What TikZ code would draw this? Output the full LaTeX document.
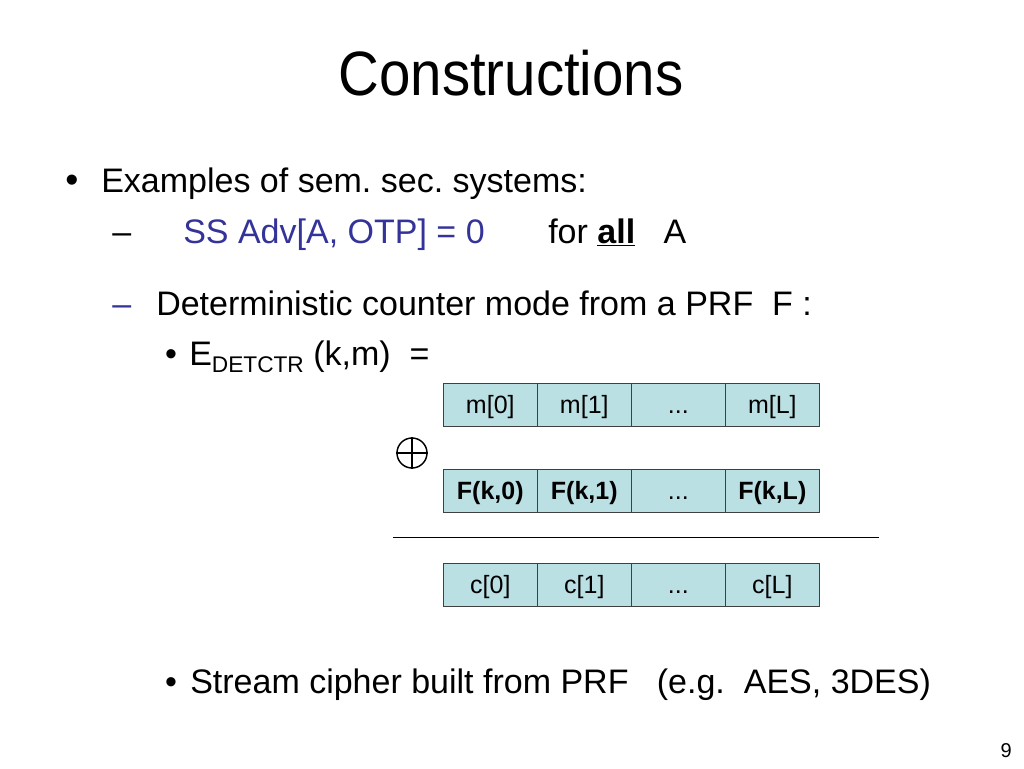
\documentclass[tikz,border=0pt]{standalone}
\usepackage{fontspec}
\setmainfont{Liberation Sans}
\usepackage{tikz}
\usetikzlibrary{positioning}
\definecolor{cellfill}{RGB}{187,224,227}
\definecolor{ssblue}{RGB}{51,51,153}
\tikzstyle{textline} = [anchor=base west, inner sep=0pt, font=\fontsize{25.5}{30}\selectfont]
\tikzstyle{dot} = [anchor=base, inner sep=0pt, font=\fontsize{25.5}{30}\selectfont]
\tikzstyle{cell} = [rectangle, draw=black!75, line width=0.9pt, fill=cellfill, minimum width=70.5pt, minimum height=32.25pt, inner sep=0pt, outer sep=0pt, text height=13pt, text depth=0pt, font=\fontsize{18.75}{22}\selectfont]
\tikzstyle{rule} = [line width=0.6pt]

\begin{document}
\frenchspacing
\begin{tikzpicture}[x=0.75pt, y=-0.75pt]
\useasboundingbox (0,0) rectangle (1024,768);

\node (title) [anchor=base, inner sep=0pt, font=\fontsize{47}{56}\selectfont] at (511,95) {\scalebox{0.9}[1]{Constructions}};

% bullet text
\node (b1) [dot, font=\fontsize{28}{32}\selectfont] at (72,192) {•};
\node (examples) [textline] at (101,192) {Examples of sem. sec. systems:};
\node (d1) [textline] at (112,243) {–};
\node (ssadv) [textline, text=ssblue] at (183,243) {SS Adv[A, OTP] = 0};
\node (forall) [textline] at (548,243) {for \underline{\textbf{all}}~~~A};
\node (d2) [textline, text=ssblue] at (112,315) {–};
\node (detctr) [textline] at (156,315) {Deterministic counter mode from a PRF~~F :};
\node (b2) [dot] at (171,365) {•};
\node (enc) [textline] at (189,365) {E\raisebox{-0.22em}{\fontsize{17}{20}\selectfont DETCTR} (k,m)~~=};
\node (b3) [dot] at (171,693) {•};
\node (stream) [textline] at (190,693) {Stream cipher built from PRF~~~(e.g.~~AES, 3DES)};

% cells
\node (m0) [cell] at (490.3,404.8) {m[0]};
\node (m1) [cell, right=0pt of m0] {m[1]};
\node (m2) [cell, right=0pt of m1] {...};
\node (mL) [cell, right=0pt of m2] {m[L]};

\node (f0) [cell, below=32.25pt of m0] {\textbf{F(k,0)}};
\node (f1) [cell, right=0pt of f0] {\textbf{F(k,1)}};
\node (f2) [cell, right=0pt of f1] {...};
\node (fL) [cell, right=0pt of f2] {\textbf{F(k,L)}};

\node (c0) [cell, below=38.25pt of f0] {c[0]};
\node (c1) [cell, right=0pt of c0] {c[1]};
\node (c2) [cell, right=0pt of c1] {...};
\node (cL) [cell, right=0pt of c2] {c[L]};

% xor sign
\node (xor) [circle, draw, line width=1.1pt, minimum size=22.5pt, inner sep=0pt] at (412,453) {};
\draw [line width=1.1pt] (xor.north) -- (xor.south);
\draw [line width=1.1pt] (xor.west) -- (xor.east);

% sum line
\coordinate (ruleL) at (393,537);
\coordinate (ruleR) at (879,537);
\draw [rule] (ruleL) -- (ruleR);

\node (page) [anchor=base east, inner sep=0pt, font=\fontsize{15}{18}\selectfont] at (1012,757) {9};

\end{tikzpicture}
\end{document}
